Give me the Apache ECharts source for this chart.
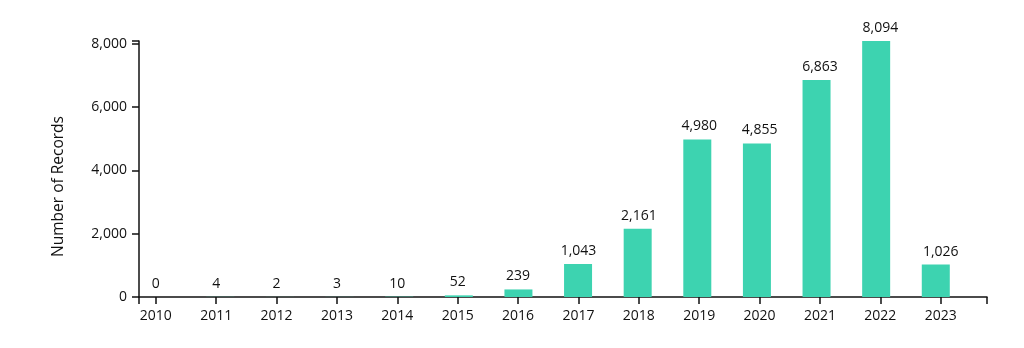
<!DOCTYPE html>
<html>
<head>
<meta charset="utf-8">
<script src="https://cdn.jsdelivr.net/npm/echarts@6/dist/echarts.min.js"></script>
<style>
html,body{margin:0;padding:0;background:#fff;}
#chart{width:1024px;height:348px;}
</style>
</head>
<body>
<div id="chart"></div>
<script>
const years = [2010,2011,2012,2013,2014,2015,2016,2017,2018,2019,2020,2021,2022,2023];
const records = [0,4,2,3,10,52,239,1043,2161,4980,4855,6863,8094,1026];
const yTickLabels = [0,2000,4000,6000,8000];
const yMax = 8094;
// tick/label scale extent and the (slightly different) bar band-scale extent
const xMin = 2009.722, xMax = 2023.766;
const barMin = 2009.636, barMax = 2023.859;

const fmt = v => Math.round(v).toLocaleString('en-US');
const font = '"Open Sans", "Noto Sans", sans-serif';
const ink = '#111';

const chart = echarts.init(document.getElementById('chart'));
chart.setOption({
  animation: false,
  grid: {left: 139, right: 37, top: 41, bottom: 51},
  xAxis: [{
    type: 'value', min: xMin, max: xMax,
    axisLine: {show: true, lineStyle: {color: ink, width: 1.5}},
    axisTick: {show: true, length: 7, lineStyle: {color: ink, width: 1.5},
      customValues: [xMin].concat(years, [xMax])},
    axisLabel: {customValues: years, color: ink, fontSize: 14, fontFamily: font, margin: 12,
      formatter: v => String(Math.round(v))},
    splitLine: {show: false}
  }, {
    type: 'value', min: barMin, max: barMax, show: false,
    splitLine: {show: false}
  }],
  yAxis: {
    type: 'value', min: 0, max: yMax,
    name: 'Number of Records', nameLocation: 'middle', nameGap: 72,
    nameTextStyle: {color: ink, fontSize: 15.5, fontFamily: font, padding: [0, 35, 0, 0]},
    axisLine: {show: true, lineStyle: {color: ink, width: 1.5}},
    axisTick: {show: true, length: 7, lineStyle: {color: ink, width: 1.5},
      customValues: yTickLabels.concat([yMax])},
    axisLabel: {customValues: yTickLabels, color: ink, fontSize: 14, fontFamily: font, margin: 12,
      formatter: v => fmt(v)},
    splitLine: {show: false}
  },
  series: [{
    type: 'bar',
    xAxisIndex: 1,
    data: years.map((y, i) => [y, records[i]]),
    barWidth: 28,
    itemStyle: {color: '#3dd3b0'},
    z: 2
  }, {
    type: 'bar',
    xAxisIndex: 0,
    data: years.map((y, i) => [y, records[i]]),
    barWidth: 28,
    itemStyle: {color: 'rgba(255,255,255,0)'},
    label: {show: true, position: 'top', distance: 6, color: ink, fontSize: 14, fontFamily: font,
      formatter: p => fmt(p.value[1])},
    z: 3
  }]
});
</script>
</body>
</html>
